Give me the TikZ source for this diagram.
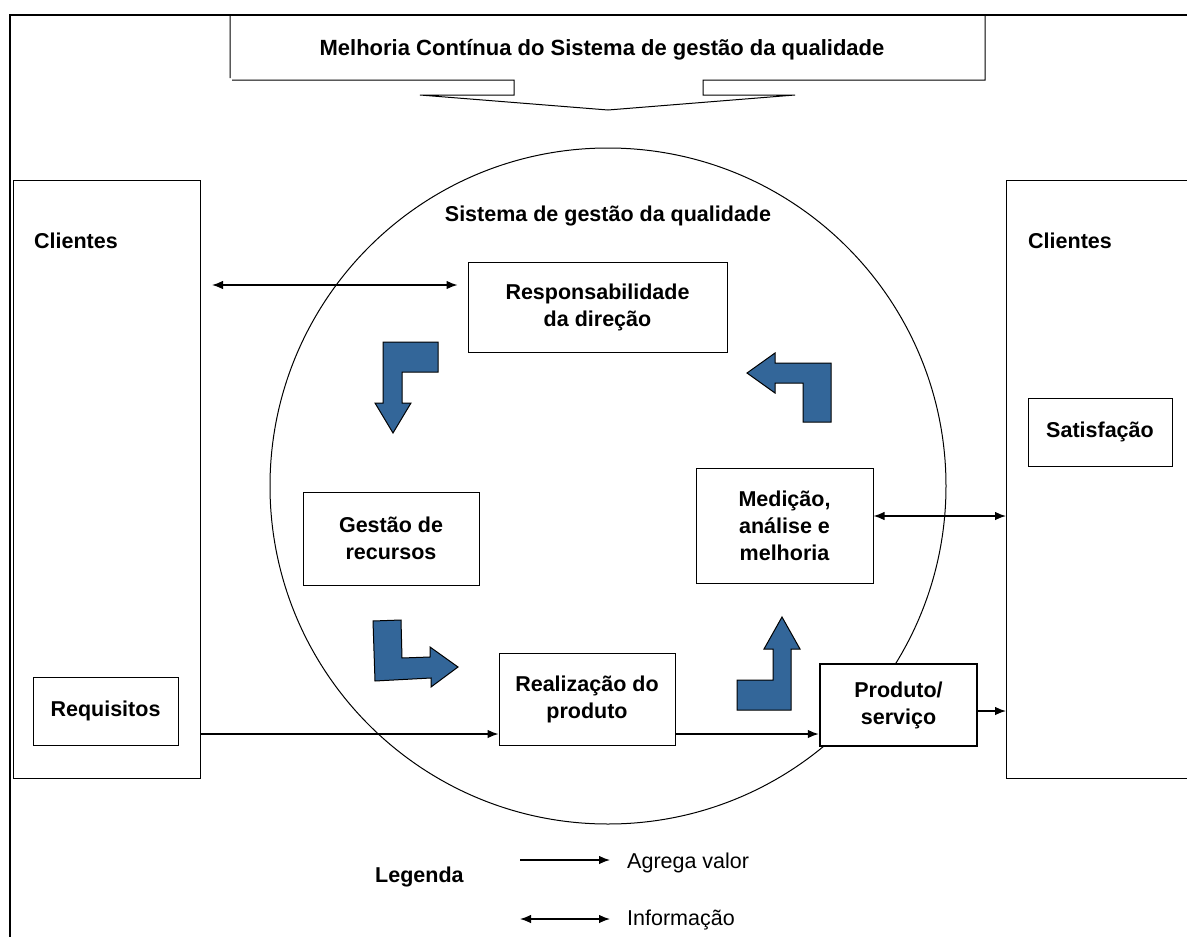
\documentclass[tikz,border=0pt]{standalone}
\usepackage{fontspec}
\setmainfont{Liberation Sans}
\usetikzlibrary{arrows.meta}
\definecolor{flowblue}{RGB}{51,102,153}
\begin{document}
\begin{tikzpicture}[x=1pt,y=-1pt,
  lbl/.style={font=\bfseries\fontsize{21.5}{27}\selectfont, align=center, inner sep=0pt},
  plain/.style={font=\fontsize{21.5}{27}\selectfont, inner sep=0pt},
  box/.style={draw, line width=1pt, fill=white, lbl},
  side/.style={draw, line width=1pt, inner sep=0pt},
  valor/.style={line width=1.3pt, -{Latex[length=11pt,width=8.5pt]}},
  info/.style={line width=1.3pt, {Latex[length=11pt,width=8.5pt]}-{Latex[length=11pt,width=8.5pt]}},
  turn/.style={draw=black, line width=1pt, fill=flowblue, line join=miter},
]
\useasboundingbox (0,0) rectangle (1187,937);
\fill[white] (0,0) rectangle (1187,937);

% outer frame
\draw[line width=1.6pt] (10,945) -- (10,15) -- (1195,15);

% improvement banner with its downward arrow
\draw[line width=1pt] (230,78) -- (230,15) -- (985,15) -- (985,80) -- (703,80)
  -- (703,95) -- (795,95) -- (608,110) -- (420,95) -- (514,95) -- (514,80) -- (232,80);
\node[lbl, font=\bfseries\fontsize{22}{27}\selectfont] (banner) at (602,50)
  {Melhoria Contínua do Sistema de gestão da qualidade};

% customer columns
\node[side, minimum width=187pt, minimum height=598pt] (clientL) at (106.5,479) {};
\node[side, minimum width=200pt, minimum height=598pt, anchor=north west] (clientR) at (1006,180) {};
\node[lbl] (cliLt) at (76,241) {Clientes};
\node[lbl] (cliRt) at (1070,241) {Clientes};

% quality management system
\node[draw, circle, line width=1pt, minimum size=676pt, inner sep=0pt] (sgq) at (608,486) {};
\node[lbl] (sgqt) at (608,216) {Sistema de gestão da qualidade};

% process boxes
\node[box, minimum width=259pt, minimum height=90pt] (resp) at (597.5,307) {Responsabilidade\\da direção};
\node[box, minimum width=176pt, minimum height=93pt] (gest) at (391,538.5) {Gestão de\\recursos};
\node[box, minimum width=177pt, minimum height=115pt] (med) at (784.5,525.5) {Medição,\\análise e\\melhoria};
\node[box, minimum width=176pt, minimum height=92pt] (real) at (587,699) {Realização do\\produto};
\node[box, line width=2.5pt, minimum width=157pt, minimum height=82pt] (prod) at (898.5,705) {Produto/\\serviço};
\node[box, minimum width=145pt, minimum height=68pt] (req) at (105.5,711) {Requisitos};
\node[box, minimum width=144pt, minimum height=68pt] (sat) at (1100,432) {Satisfação};

% information flows
\coordinate (infoTop) at (212,285);
\draw[info, shorten >=10pt] (infoTop) -- (infoTop -| resp.west);
\coordinate (infoMed) at ([yshift=9.5pt]med.east);
\draw[info] (infoMed) -- (infoMed -| clientR.west);

% value-adding flows
\coordinate (flowLow) at ([yshift=-35pt]real.west);
\draw[valor] (flowLow -| clientL.east) -- (flowLow);
\draw[valor] (flowLow -| real.east) -- (flowLow -| prod.west);
\coordinate (flowOut) at ([yshift=-6pt]prod.east);
\draw[valor] (flowOut) -- (flowOut -| clientR.west);

% cycle arrows
\draw[turn] (438,342) -- (383,342) -- (383,403) -- (375,403) -- (393,433) -- (411,403)
  -- (402,403) -- (402,372) -- (438,372) -- cycle;
\draw[turn] (373,621) -- (401,620) -- (402,658) -- (430,657) -- (430,647) -- (458,667)
  -- (431,687) -- (431,678) -- (375,681) -- cycle;
\draw[turn] (737,710) -- (791,710) -- (791,649) -- (800,649) -- (782,617) -- (764,649)
  -- (773,649) -- (773,680) -- (737,680) -- cycle;
\draw[turn] (747,373) -- (775,353) -- (775,363) -- (831,363) -- (831,422) -- (803,422)
  -- (803,383) -- (775,383) -- (775,393) -- cycle;

% legend
\node[lbl, anchor=west] (leg) at (375,877) {Legenda};
\coordinate (agA) at (520,860);
\coordinate (agB) at (610,860);
\draw[valor] (agA) -- (agB);
\node[plain, anchor=west] (agT) at (627,863) {Agrega valor};
\coordinate (inA) at (520,919);
\coordinate (inB) at (610,919);
\draw[info] (inA) -- (inB);
\node[plain, anchor=west] (inT) at (627,920) {Informação};
\end{tikzpicture}
\end{document}
